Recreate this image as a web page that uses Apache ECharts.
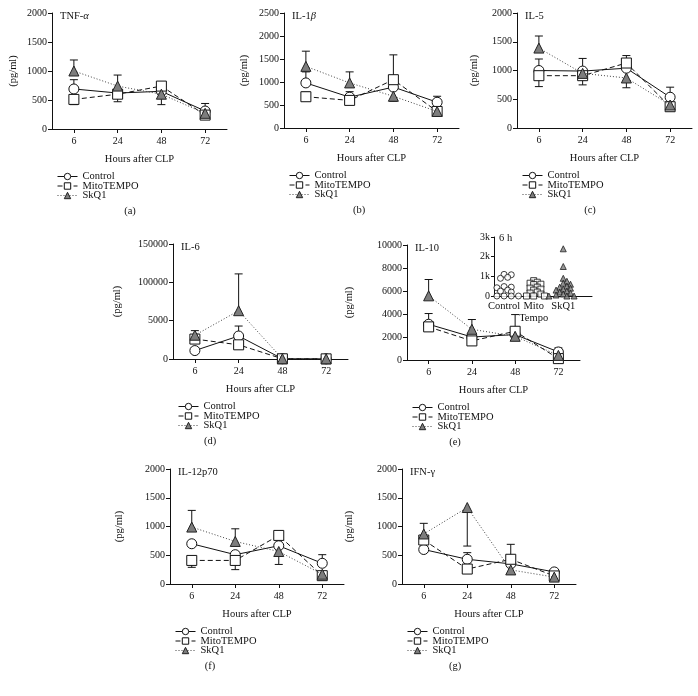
<!DOCTYPE html>
<html><head><meta charset="utf-8">
<script src="https://cdn.jsdelivr.net/npm/echarts@6/dist/echarts.min.js"></script>
<style>html,body{margin:0;padding:0;background:#fff}#c{width:698px;height:696px}</style>
</head><body><div id="c"></div>
<script>
const FONT = '"Liberation Serif", "DejaVu Serif", serif';
const hours = ['6', '24', '48', '72'];
const groupNames = ['Control', 'MitoTEMPO', 'SkQ1'];

// (a) TNF-α
const tnfControl = [690, 620, 650, 310];
const tnfControlErr = [850, null, null, 440];
const tnfMito = [510, 600, 740, 240];
const tnfMitoErr = [420, 470, null, null];
const tnfSkq = [1000, 740, 600, 270];
const tnfSkqErr = [1190, 930, 420, null];

// (b) IL-1β
const il1bControl = [980, 670, 890, 560];
const il1bControlErr = [1220, 790, null, 690];
const il1bMito = [680, 600, 1050, 360];
const il1bMitoErr = [780, null, 1590, 290];
const il1bSkq = [1340, 980, 690, 360];
const il1bSkqErr = [1670, 1220, 580, null];

// (c) IL-5
const il5Control = [1000, 990, 1040, 535];
const il5ControlErr = [1200, 1210, null, 710];
const il5Mito = [910, 910, 1130, 370];
const il5MitoErr = [720, 750, 1260, 300];
const il5Skq = [1390, 950, 870, 400];
const il5SkqErr = [1600, null, 700, null];

// (d) IL-6
const il6Control = [11000, 30000, 300, 200];
const il6ControlErr = [null, 43000, null, null];
const il6Mito = [26000, 18500, 300, 200];
const il6MitoErr = [37000, null, null, null];
const il6Skq = [31000, 63000, 300, 200];
const il6SkqErr = [null, 111000, null, null];
const il6TickValues = [0, 50000, 100000, 150000];
const il6TickLabels = ['0', '5000', '100000', '150000'];

// (e) IL-10
const il10Control = [3110, 2000, 2210, 700];
const il10ControlErr = [4040, null, null, 1050];
const il10Mito = [2880, 1660, 2500, 120];
const il10MitoErr = [null, null, 3950, null];
const il10Skq = [5580, 2670, 2060, 400];
const il10SkqErr = [7000, 3520, null, null];

// (e) inset, 6 h individual values
const insetCategories = ['Control', 'Mito\nTempo', 'SkQ1'];
const insetTickLabels = ['0', '1k', '2k', '3k'];
const inset6hControl = [1100, 1080, 950, 900, 480, 450, 420, 300, 250, 200, 0, 0, 0, 0, 0];
const inset6hMito = [780, 700, 650, 600, 580, 450, 400, 350, 300, 200, 150, 100, 0, 0, 0];
const inset6hSkq = [2400, 1500, 900, 750, 650, 600, 500, 450, 400, 350, 300, 250, 200, 150, 100, 50, 0, 0, 0];

// (f) IL-12p70
const il12Control = [700, 510, 665, 360];
const il12ControlErr = [null, null, null, 510];
const il12Mito = [410, 410, 845, 145];
const il12MitoErr = [290, 250, null, null];
const il12Skq = [990, 740, 565, 170];
const il12SkqErr = [1280, 960, 340, null];

// (g) IFN-γ
const ifnControl = [600, 430, 350, 210];
const ifnControlErr = [null, 545, null, null];
const ifnMito = [765, 260, 430, 140];
const ifnMitoErr = [null, null, 690, null];
const ifnSkq = [870, 1330, 245, 120];
const ifnSkqErr = [1055, 660, null, null];

const panels = [
  {letter:'(a)', title:'TNF-{g|α}', left:52, top:13, width:175, height:116, max:2000, interval:500, nameGap:33, letterX:130,
   sets:[[tnfControl,tnfControlErr],[tnfMito,tnfMitoErr],[tnfSkq,tnfSkqErr]]},
  {letter:'(b)', title:'IL-1{g|β}', left:284, top:13, width:175, height:115, max:2500, interval:500, nameGap:34, letterX:359,
   sets:[[il1bControl,il1bControlErr],[il1bMito,il1bMitoErr],[il1bSkq,il1bSkqErr]]},
  {letter:'(c)', title:'IL-5', left:517, top:13, width:175, height:115, max:2000, interval:500, nameGap:37, letterX:590,
   sets:[[il5Control,il5ControlErr],[il5Mito,il5MitoErr],[il5Skq,il5SkqErr]]},
  {letter:'(d)', title:'IL-6', left:173, top:244, width:175, height:115, max:150000, interval:50000, nameGap:50, letterX:210,
   labels:il6TickLabels, labelValues:il6TickValues,
   sets:[[il6Control,il6ControlErr],[il6Mito,il6MitoErr],[il6Skq,il6SkqErr]]},
  {letter:'(e)', title:'IL-10', left:407, top:245, width:173, height:115, max:10000, interval:2000, nameGap:52, letterX:455,
   sets:[[il10Control,il10ControlErr],[il10Mito,il10MitoErr],[il10Skq,il10SkqErr]]},
  {letter:'(f)', title:'IL-12p70', left:170, top:469, width:174, height:115, max:2000, interval:500, nameGap:45, letterX:210,
   sets:[[il12Control,il12ControlErr],[il12Mito,il12MitoErr],[il12Skq,il12SkqErr]]},
  {letter:'(g)', title:'IFN-γ', left:402, top:469, width:174, height:115, max:2000, interval:500, nameGap:47, letterX:455,
   sets:[[ifnControl,ifnControlErr],[ifnMito,ifnMitoErr],[ifnSkq,ifnSkqErr]]}
];

const styles = [
  {symbol:'circle', fill:'#ffffff', border:'#111', line:{type:'solid', color:'#111', width:1}},
  {symbol:'rect', fill:'#ffffff', border:'#111', line:{type:[5,3], color:'#111', width:1}},
  {symbol:'triangle', fill:'#7d7d7d', border:'#222', line:{type:[1,2], color:'#444', width:1}}
];

const txt = {fontFamily: FONT, fontSize: 10, color: '#111'};
const axisLine = {show:true, onZero:false, lineStyle:{color:'#111', width:1}};

const grid = [], xAxis = [], yAxis = [], series = [], title = [], legend = [], graphic = [];

function errSeries(pi, vals, errs) {
  const data = [];
  vals.forEach((v, i) => { if (errs[i] != null) data.push([i, v, errs[i]]); });
  return {
    type:'custom', xAxisIndex:pi, yAxisIndex:pi, z:1, silent:true,
    encode:{x:0, y:[1,2]},
    renderItem(params, api) {
      const i = api.value(0), m = api.value(1), e = api.value(2);
      const p0 = api.coord([i, m]), p1 = api.coord([i, e]);
      return {type:'group', children:[
        {type:'line', shape:{x1:p0[0], y1:p0[1], x2:p1[0], y2:p1[1]}, style:{stroke:'#111', lineWidth:1}},
        {type:'line', shape:{x1:p1[0]-4, y1:p1[1], x2:p1[0]+4, y2:p1[1]}, style:{stroke:'#111', lineWidth:1}}
      ]};
    },
    data
  };
}

panels.forEach((p, pi) => {
  grid.push({left:p.left, top:p.top, width:p.width, height:p.height, containLabel:false});
  xAxis.push({
    gridIndex:pi, type:'category', data:hours, boundaryGap:true,
    axisLine, axisTick:{show:true, alignWithLabel:true, length:4, lineStyle:{color:'#111'}},
    axisLabel:Object.assign({margin:7}, txt), splitLine:{show:false},
    name:'Hours after CLP', nameLocation:'middle', nameGap:25, nameTextStyle:Object.assign({}, txt, {fontSize:10.5})
  });
  const yl = Object.assign({margin:5}, txt);
  yl.formatter = p.labels
    ? (v => { const k = p.labelValues.indexOf(v); return k >= 0 ? p.labels[k] : ''; })
    : (v => String(v));
  yAxis.push({
    gridIndex:pi, type:'value', min:0, max:p.max, interval:p.interval,
    axisLine, axisTick:{show:true, length:4, lineStyle:{color:'#111'}},
    axisLabel:yl, splitLine:{show:false},
    name:'(pg/ml)', nameLocation:'middle', nameGap:p.nameGap, nameRotate:90, nameTextStyle:Object.assign({}, txt, {fontSize:10.5})
  });
  p.sets.forEach((s) => { series.push(errSeries(pi, s[0], s[1])); });
  p.sets.forEach((s, si) => {
    const st = styles[si];
    series.push({
      type:'line', name:groupNames[si], xAxisIndex:pi, yAxisIndex:pi, z:3 + si,
      data:s[0], symbol:st.symbol, symbolSize:10, showAllSymbol:true,
      lineStyle:st.line, itemStyle:{color:st.fill, borderColor:st.border, borderWidth:1},
      silent:true
    });
  });
  title.push({text:p.title, left:p.left + 3, top:p.top - 7,
    textStyle:Object.assign({}, txt, {fontWeight:'normal', fontSize:10.5, rich:{g:{fontFamily:FONT, fontStyle:'italic', fontSize:10.5, color:'#111'}}})});
  legend.push({
    data:groupNames, orient:'vertical', left:p.left, top:p.top + p.height + 37,
    itemWidth:20, itemHeight:8, itemGap:-1.5, selectedMode:false,
    lineStyle:{width:1}, itemStyle:{borderWidth:1},
    textStyle:Object.assign({}, txt, {fontSize:10.5})
  });
  graphic.push({type:'text', x:p.letterX, y:p.top + p.height + 82,
    style:{text:p.letter, font:'10.5px ' + FONT, fill:'#111', textAlign:'center', textVerticalAlign:'middle'}});
});

// inset (e)
const IG = panels.length;
const insetPxY = 59 / 3000, insetPxX = 29.6;
function swarm(values, center) {
  const placed = [];
  const out = [];
  const order = values.map((v, i) => i).sort((a, b) => values[b] - values[a]);
  const step = 3.6, r = 3.8;
  order.forEach(i => {
    const y = values[i] * insetPxY;
    let off = 0;
    for (let k = 0; k < 60; k++) {
      const cand = (k % 2 === 1 ? 1 : -1) * Math.ceil(k / 2) * step;
      if (placed.every(q => Math.hypot(q.x - cand, q.y - y) >= r)) { off = cand; break; }
    }
    placed.push({x:off, y});
    out.push([center + off / insetPxX, values[i]]);
  });
  return out;
}
grid.push({left:494, top:237, width:98, height:59, containLabel:false});
const insetLabel = (vals) => Object.assign({}, txt, {fontSize:10.5, lineHeight:12, margin:4, customValues:vals, hideOverlap:false,
    showMinLabel:true, showMaxLabel:true, formatter: v => insetCategories[Math.round(v)] || ''});
xAxis.push({gridIndex:IG, type:'value', min:-0.34, max:2.97, axisLine,
  axisTick:{show:false}, splitLine:{show:false}, axisLabel:insetLabel([0, 2])});
xAxis.push({gridIndex:IG, type:'value', min:-0.34, max:2.97, position:'bottom', axisLine:{show:false},
  axisTick:{show:false}, splitLine:{show:false}, axisLabel:insetLabel([1])});
yAxis.push({gridIndex:IG, type:'value', min:0, max:3000, interval:1000, axisLine,
  axisTick:{show:true, length:3, lineStyle:{color:'#111'}}, splitLine:{show:false},
  axisLabel:Object.assign({}, txt, {margin:4, lineHeight:8, showMinLabel:true, formatter: v => insetTickLabels[Math.round(v / 1000)]})});
[inset6hControl, inset6hMito, inset6hSkq].forEach((vals, si) => {
  const st = styles[si];
  series.push({type:'scatter', xAxisIndex:IG, yAxisIndex:IG, silent:true, z:3,
    data:swarm(vals, si), symbol:st.symbol, symbolSize:6,
    itemStyle:{color:st.fill, borderColor:st.border, borderWidth:1}});
});
graphic.push({type:'text', x:499, y:238,
  style:{text:'6 h', font:'10.5px ' + FONT, fill:'#111', textAlign:'left', textVerticalAlign:'middle'}});

const chart = echarts.init(document.getElementById('c'), null, {renderer:'canvas'});
chart.setOption({animation:false, backgroundColor:'#fff', grid, xAxis, yAxis, series, title, legend, graphic});
</script></body></html>
